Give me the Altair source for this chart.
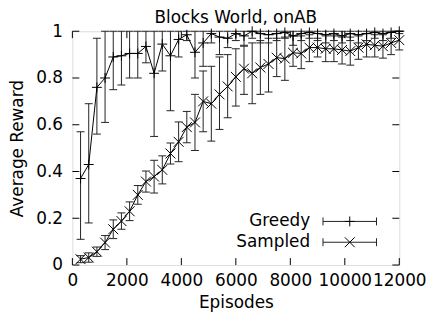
import altair as alt
import pandas as pd

FONT = "DejaVu Sans"

episodes = [300, 600, 900, 1200, 1500, 1800, 2100, 2400, 2700, 3000,
            3300, 3600, 3900, 4200, 4500, 4800, 5100, 5400, 5700, 6000,
            6300, 6600, 6900, 7200, 7500, 7800, 8100, 8400, 8700, 9000,
            9300, 9600, 9900, 10200, 10500, 10800, 11100, 11400, 11700, 12000]

greedy_mean = [0.37, 0.43, 0.76, 0.80, 0.89, 0.895, 0.905, 0.905, 0.935, 0.82,
               0.945, 0.895, 0.965, 0.985, 0.91, 0.95, 0.99, 0.975, 0.97, 0.99,
               0.98, 1.0, 0.99, 0.985, 0.99, 0.995, 0.98, 0.99, 0.995, 0.99,
               0.985, 0.99, 0.98, 0.99, 0.985, 0.99, 0.995, 0.99, 0.995, 1.0]
greedy_lo = [0.11, 0.18, 0.56, 0.61, 0.75, 0.77, 0.80, 0.80, 0.865, 0.55,
             0.83, 0.66, 0.89, 0.96, 0.80, 0.85, 0.95, 0.90, 0.93, 0.96,
             0.94, 0.97, 0.95, 0.95, 0.96, 0.97, 0.94, 0.96, 0.97, 0.96,
             0.95, 0.96, 0.95, 0.96, 0.95, 0.96, 0.97, 0.96, 0.97, 0.99]
greedy_hi = [0.57, 0.69, 0.97, 1.0, 1.0, 1.0, 1.0, 1.0, 1.0, 1.0,
             1.0, 1.0, 1.0, 1.0, 1.0, 1.0, 1.0, 1.0, 1.0, 1.0,
             1.0, 1.0, 1.0, 1.0, 1.0, 1.0, 1.0, 1.0, 1.0, 1.0,
             1.0, 1.0, 1.0, 1.0, 1.0, 1.0, 1.0, 1.0, 1.0, 1.0]

sampled_mean = [0.025, 0.032, 0.057, 0.096, 0.153, 0.188, 0.23, 0.30, 0.357, 0.378,
                0.407, 0.477, 0.527, 0.59, 0.61, 0.70, 0.69, 0.73, 0.764, 0.805,
                0.84, 0.82, 0.845, 0.86, 0.887, 0.883, 0.908, 0.905, 0.93, 0.93,
                0.925, 0.925, 0.92, 0.915, 0.93, 0.944, 0.94, 0.936, 0.95, 0.962]
sampled_lo = [0.01, 0.012, 0.037, 0.066, 0.113, 0.153, 0.19, 0.26, 0.312, 0.308,
              0.347, 0.432, 0.442, 0.523, 0.49, 0.57, 0.53, 0.58, 0.63, 0.68,
              0.73, 0.69, 0.73, 0.74, 0.806, 0.79, 0.85, 0.84, 0.87, 0.89,
              0.87, 0.87, 0.86, 0.855, 0.88, 0.89, 0.89, 0.885, 0.90, 0.92]
sampled_hi = [0.04, 0.052, 0.077, 0.126, 0.193, 0.223, 0.27, 0.34, 0.402, 0.448,
              0.467, 0.522, 0.612, 0.657, 0.73, 0.83, 0.85, 0.89, 0.90, 0.925,
              0.936, 0.95, 0.96, 0.97, 0.97, 0.975, 0.98, 0.98, 0.985, 0.97,
              0.98, 0.98, 0.975, 0.975, 0.98, 0.99, 0.985, 0.985, 0.995, 1.0]

series_names = ["Greedy", "Sampled"]
title_text = "Blocks World, onAB"
x_ticks = [0, 2000, 4000, 6000, 8000, 10000, 12000]
y_ticks = [0, 0.2, 0.4, 0.6, 0.8, 1]

W, H = 330, 236
TICK = 7

rows = []
for i, e in enumerate(episodes):
    rows.append({"ep": e, "series": "Greedy", "m": greedy_mean[i], "lo": greedy_lo[i], "hi": greedy_hi[i]})
for i, e in enumerate(episodes):
    rows.append({"ep": e, "series": "Sampled", "m": sampled_mean[i], "lo": sampled_lo[i], "hi": sampled_hi[i]})
df = pd.DataFrame(rows)

plus = "M-1,0L1,0M0,-1L0,1"
cross = "M-1,-1L1,1M-1,1L1,-1"

xs = alt.Scale(domain=[0, 12000], nice=False, zero=False)
ys = alt.Scale(domain=[0, 1], nice=False, zero=False)

x_axis = alt.Axis(values=x_ticks, format="d", title="Episodes", grid=False, tickSize=0,
                  domain=False, labelPadding=8, labelOverlap=False, labelBound=False,
                  labelFlush=False,
                  labelFontSize=17, titleFontSize=17, titleFontWeight="normal",
                  labelFont=FONT, titleFont=FONT, labelColor="black", titleColor="black",
                  titlePadding=6)
y_axis = alt.Axis(values=y_ticks, format="~g", title="Average Reward", grid=False, tickSize=0,
                  domain=False, labelPadding=10, labelOverlap=False, labelFlush=False,
                  labelFontSize=17, titleFontSize=17, titleFontWeight="normal",
                  labelFont=FONT, titleFont=FONT, labelColor="black", titleColor="black",
                  titlePadding=9)

base = alt.Chart(df)

bars = base.mark_rule(color="#222", strokeWidth=1).encode(
    x=alt.X("ep:Q", scale=xs, axis=x_axis),
    y=alt.Y("lo:Q", scale=ys, axis=y_axis),
    y2="hi:Q",
)
caps_lo = base.mark_rule(color="#222", strokeWidth=1, xOffset=-4, x2Offset=4).encode(
    x=alt.X("ep:Q", scale=xs), x2="ep:Q", y=alt.Y("lo:Q", scale=ys))
caps_hi = base.mark_rule(color="#222", strokeWidth=1, xOffset=-4, x2Offset=4).encode(
    x=alt.X("ep:Q", scale=xs), x2="ep:Q", y=alt.Y("hi:Q", scale=ys))

lines = base.mark_line(color="black", strokeWidth=1).encode(
    x=alt.X("ep:Q", scale=xs), y=alt.Y("m:Q", scale=ys), detail="series:N")

points = base.mark_point(color="black", strokeWidth=1, filled=False, size=100, opacity=1).encode(
    x=alt.X("ep:Q", scale=xs), y=alt.Y("m:Q", scale=ys),
    shape=alt.Shape("series:N", scale=alt.Scale(domain=series_names, range=[plus, cross]), legend=None))

# inner (mirrored) ticks
xt = pd.DataFrame({"t": x_ticks})
yt = pd.DataFrame({"t": y_ticks})
tb = alt.Chart(xt).mark_rule(color="black").encode(x=alt.X("t:Q", scale=xs), y=alt.value(H), y2=alt.value(H - TICK))
tt = alt.Chart(xt).mark_rule(color="black").encode(x=alt.X("t:Q", scale=xs), y=alt.value(0), y2=alt.value(TICK))
tl = alt.Chart(yt).mark_rule(color="black").encode(y=alt.Y("t:Q", scale=ys), x=alt.value(0), x2=alt.value(TICK))
tr = alt.Chart(yt).mark_rule(color="black").encode(y=alt.Y("t:Q", scale=ys), x=alt.value(W), x2=alt.value(W - TICK))

# title as text
title = alt.Chart(pd.DataFrame({"t": [title_text]})).mark_text(
    align="center", baseline="alphabetic", fontSize=17, font=FONT, color="black").encode(
    text="t:N", x=alt.value(W / 2), y=alt.value(-8))

# legend
leg = []
for k, name in enumerate(series_names):
    ly = 192 + 21 * k
    d = pd.DataFrame({"name": [name]})
    c = alt.Chart(d)
    leg.append(c.mark_text(align="right", baseline="middle", fontSize=17, font=FONT, color="black").encode(
        text="name:N", x=alt.value(240), y=alt.value(ly)))
    leg.append(c.mark_rule(color="#222").encode(x=alt.value(253), x2=alt.value(307), y=alt.value(ly)))
    leg.append(c.mark_rule(color="#222").encode(x=alt.value(253), y=alt.value(ly - 4), y2=alt.value(ly + 4)))
    leg.append(c.mark_rule(color="#222").encode(x=alt.value(307), y=alt.value(ly - 4), y2=alt.value(ly + 4)))
    leg.append(c.mark_point(color="black", strokeWidth=1, size=100, opacity=1,
                            shape=plus if k == 0 else cross).encode(x=alt.value(280), y=alt.value(ly)))

chart = alt.layer(bars, caps_lo, caps_hi, lines, points, tb, tt, tl, tr, title, *leg).properties(
    width=W, height=H,
    autosize=alt.AutoSizeParams(type="none"),
    padding={"left": 65, "top": 22, "right": 30, "bottom": 50},
).configure_view(stroke="black", strokeWidth=1).configure(background="white")

chart.save("out.html", embed_options={"renderer": "svg", "actions": False})
